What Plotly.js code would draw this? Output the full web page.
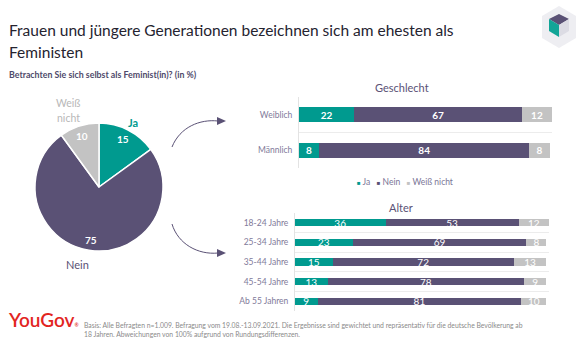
<!DOCTYPE html>
<html><head><meta charset="utf-8">
<script src="https://cdn.plot.ly/plotly-3.0.1.min.js"></script>
<style>html,body{margin:0;padding:0;background:#fff}#chart{width:587px;height:345px}</style>
</head><body><div id="chart"></div>
<script>
const answers = ["Ja", "Nein", "Weiß nicht"];
const colors = ["#009a8f", "#5a5175", "#c3c3c3"];
const totalValues = [15, 75, 10];
const genderCats = ["Weiblich", "Männlich"];
const genderJa = [22, 8];
const genderNein = [67, 84];
const genderWeiss = [12, 8];
const ageCats = ["18-24 Jahre", "25-34 Jahre", "35-44 Jahre", "45-54 Jahre", "Ab 55 Jahren"];
const ageJa = [36, 23, 15, 13, 9];
const ageNein = [53, 69, 72, 78, 81];
const ageWeiss = [12, 8, 13, 9, 10];

const W = 587, H = 345;
const FONT = "Lato, 'Open Sans', sans-serif";
const px = x => x / W;
const py = y => 1 - y / H;

const genderSeries = [genderJa, genderNein, genderWeiss];
const ageSeries = [ageJa, ageNein, ageWeiss];

const traces = [];
traces.push({
  type: 'pie', values: totalValues, labels: answers, sort: false,
  direction: 'clockwise', rotation: 0,
  marker: {colors: colors, line: {color: '#ffffff', width: 1.5}},
  textinfo: 'none', hoverinfo: 'none', showlegend: false,
  domain: {x: [px(35), px(163)], y: [py(251), py(123)]}
});
answers.forEach((a, i) => {
  traces.push({
    type: 'bar', orientation: 'h', name: a, y: genderCats, x: genderSeries[i],
    marker: {color: colors[i]}, width: 0.43,
    text: genderSeries[i].map(String), textposition: 'inside', insidetextanchor: 'middle',
    textangle: 0, constraintext: 'none', cliponaxis: false,
    textfont: {color: '#ffffff', size: 10, family: FONT, weight: 'bold'},
    xaxis: 'x', yaxis: 'y', showlegend: false, hoverinfo: 'none'
  });
});
answers.forEach((a, i) => {
  traces.push({
    type: 'bar', orientation: 'h', name: a, y: ageCats, x: ageSeries[i],
    marker: {color: colors[i]}, width: 0.37,
    text: ageSeries[i].map(String), textposition: 'inside', insidetextanchor: 'middle',
    textangle: 0, constraintext: 'none', cliponaxis: false,
    textfont: {color: '#ffffff', size: 10, family: FONT},
    xaxis: 'x2', yaxis: 'y2', showlegend: false, hoverinfo: 'none'
  });
});

const yax = (dom, anchor) => ({
  domain: dom, anchor: anchor, type: 'category', autorange: 'reversed',
  tickson: 'boundaries', showgrid: true, gridcolor: '#ececec', gridwidth: 1,
  showline: true, linecolor: '#e3e3e3', linewidth: 1, ticks: '', zeroline: false,
  ticklabelstandoff: 4, tickfont: {size: 8.5, color: '#7f7a9a', family: FONT}, fixedrange: true
});
const xax = (dom, anchor) => ({
  domain: dom, anchor: anchor, range: [0, 101], showgrid: false, zeroline: false,
  showticklabels: false, showline: false, ticks: '', fixedrange: true
});

const ann = [];
const A = (x, y, text, font, opts) => ann.push(Object.assign({
  xref: 'paper', yref: 'paper', x: px(x), y: py(y), text: text, showarrow: false,
  xanchor: 'center', yanchor: 'middle', font: Object.assign({family: FONT}, font)
}, opts || {}));

const cx = 99, cy = 187, R = 64;
let cum = 0;
const tot = totalValues.reduce((s, v) => s + v, 0);
totalValues.forEach((v, i) => {
  const mid = (cum + v / 2) / tot * 2 * Math.PI;
  cum += v;
  const r = R * 0.84;
  A(cx + r * Math.sin(mid), cy - r * Math.cos(mid), String(v), {size: 10, color: '#ffffff', weight: 'bold'});
});
A(133, 122, answers[0], {size: 11, color: colors[0], weight: 'bold'});
A(77, 264, answers[1], {size: 11, color: colors[1]});
const weissParts = answers[2].split(' ');
A(68, 103, weissParts[0], {size: 10.5, color: '#b8b8b8'});
A(68, 118, weissParts[1], {size: 10.5, color: '#b8b8b8'});

A(7, 30, 'Frauen und jüngere Generationen bezeichnen sich am ehesten als', {size: 15.5, color: '#25232f'}, {xanchor: 'left'});
A(7, 52, 'Feministen', {size: 15.5, color: '#25232f'}, {xanchor: 'left'});
A(7, 75, '<b>Betrachten Sie sich selbst als Feminist(in)? (in %)</b>', {size: 8.8, color: '#4f4a6b'}, {xanchor: 'left'});
A(402, 88, 'Geschlecht', {size: 11, color: '#5a5175'});
A(401, 207, 'Alter', {size: 11, color: '#5a5175'});
const legendText = answers.map((a, i) => `<span style="color:${colors[i]};font-size:6px">■</span> ${a}`).join('   ');
A(405, 182, legendText, {size: 8.5, color: '#7a7596'});
A(6, 319, 'YouGov<span style="font-size:5px">®</span>', {size: 19, color: '#e2251f', weight: 600}, {xanchor: 'left'});
A(82, 325, 'Basis: Alle Befragten n=1.009. Befragung vom 19.08.-13.09.2021. Die Ergebnisse sind gewichtet und repräsentativ für die deutsche Bevölkerung ab',
  {size: 6.8, color: '#8a8a8a'}, {xanchor: 'left'});
A(82, 334, '18 Jahren. Abweichungen von 100% aufgrund von Rundungsdifferenzen.',
  {size: 6.8, color: '#8a8a8a'}, {xanchor: 'left'});

const path = cmds => cmds.map(c => typeof c === 'string' ? c : `${px(c[0])},${py(c[1])}`).join(' ');
const shapes = [
  {type: 'path', xref: 'paper', yref: 'paper', line: {color: '#5a5175', width: 1},
    path: path(['M', [172, 147], 'C', [180, 127], [200, 119], [218, 121]])},
  {type: 'path', xref: 'paper', yref: 'paper', line: {width: 0}, fillcolor: '#5a5175',
    path: path(['M', [217, 117], 'L', [226, 121], 'L', [217, 125], 'Z'])},
  {type: 'path', xref: 'paper', yref: 'paper', line: {color: '#5a5175', width: 1},
    path: path(['M', [172, 224], 'C', [178, 244], [198, 255], [218, 253]])},
  {type: 'path', xref: 'paper', yref: 'paper', line: {width: 0}, fillcolor: '#5a5175',
    path: path(['M', [217, 249], 'L', [226, 253], 'L', [217, 257], 'Z'])},
  {type: 'path', xref: 'paper', yref: 'paper', line: {width: 0}, fillcolor: '#eeeef2',
    path: path(['M', [559, 6], 'L', [576, 16], 'L', [576, 38], 'L', [559, 48], 'L', [542, 38], 'L', [542, 16], 'Z'])},
  {type: 'path', xref: 'paper', yref: 'paper', line: {width: 0}, fillcolor: '#5a5175',
    path: path(['M', [559, 14], 'L', [569, 19], 'L', [559, 25], 'L', [549, 19], 'Z'])},
  {type: 'path', xref: 'paper', yref: 'paper', line: {width: 0}, fillcolor: '#12a597',
    path: path(['M', [549, 19], 'L', [559, 25], 'L', [559, 37], 'L', [549, 31], 'Z'])},
  {type: 'path', xref: 'paper', yref: 'paper', line: {width: 0}, fillcolor: '#dcdce4',
    path: path(['M', [569, 19], 'L', [559, 25], 'L', [559, 37], 'L', [569, 31], 'Z'])}
];

const layout = {
  width: W, height: H, margin: {l: 0, r: 0, t: 0, b: 0},
  paper_bgcolor: '#ffffff', plot_bgcolor: 'rgba(0,0,0,0)',
  barmode: 'stack', bargap: 0, showlegend: false,
  font: {family: FONT},
  xaxis: xax([px(299), px(552)], 'y'),
  yaxis: yax([py(168), py(97)], 'x'),
  xaxis2: xax([px(295), px(549)], 'y2'),
  yaxis2: yax([py(311), py(213)], 'x2'),
  annotations: ann, shapes: shapes
};
Plotly.newPlot('chart', traces, layout, {displayModeBar: false, staticPlot: true});
</script></body></html>
